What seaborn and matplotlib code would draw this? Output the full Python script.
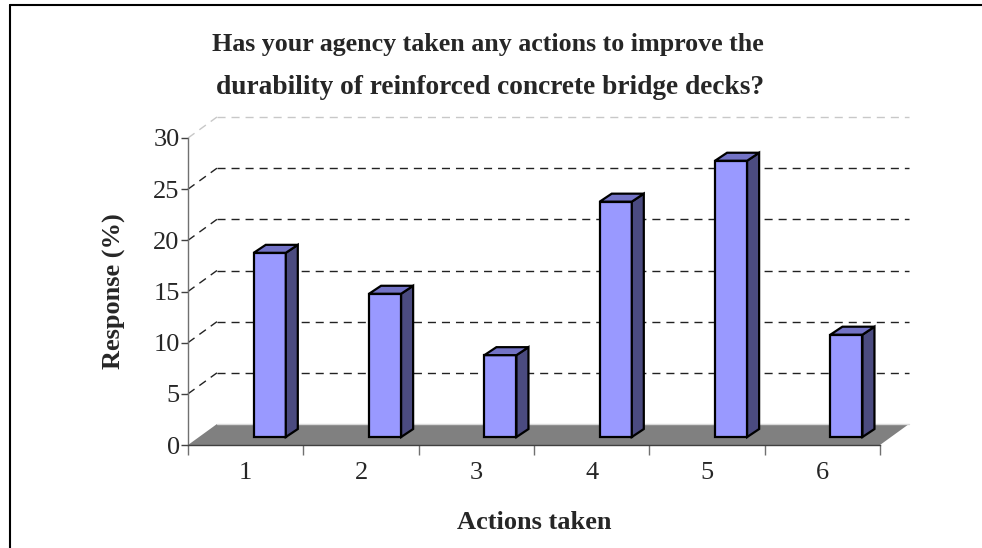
import numpy as np
import pandas as pd
import seaborn as sns
import matplotlib.pyplot as plt
from matplotlib.patches import Polygon
from matplotlib.lines import Line2D

# data
actions = ["1", "2", "3", "4", "5", "6"]
response = [18, 14, 8, 23, 27, 10]
y_ticks = [0, 5, 10, 15, 20, 25, 30]

title_lines = ["Has your agency taken any actions to improve the",
               "durability of reinforced concrete bridge decks?"]

# fake 3d geometry, in data units
DEPTH_X = 0.251    # wall depth along x (categories)
DEPTH_Y = 2.05     # wall depth along y (percent)
BAR_OFF = 0.07     # left edge of bar front face relative to category centre
BAR_W = 0.278
BAR_Z = 0.78       # bar front face sits this far back
BAR_DX = 0.104
BAR_DY = 0.78

FRONT = "#9999FF"
TOP = "#7373C6"
SIDE = "#4B4B80"
FLOOR = "#808080"

sns.set_style("white")
plt.rcParams["font.family"] = ["Liberation Serif", "DejaVu Serif"]

fig = plt.figure(figsize=(9.82, 5.48), dpi=100)
ax = fig.add_axes([188 / 982, 103 / 548, 692 / 982, 307 / 548])
ax.patch.set_alpha(0)

df = pd.DataFrame({"action": actions, "response": response})
sns.barplot(data=df, x="action", y="response", color=FRONT, saturation=1,
            edgecolor="black", linewidth=1.6, ax=ax, zorder=4)

ax.set_xlim(-0.5, len(actions) - 0.5)
ax.set_ylim(0, 30)

x0, x1 = -0.5, len(actions) - 0.5

# back wall grid lines + side wall diagonals
for v in y_ticks[1:]:
    col = "#c8c8c8" if v == y_ticks[-1] else "#222222"
    ax.plot([x0 + DEPTH_X, x1 + DEPTH_X], [v + DEPTH_Y, v + DEPTH_Y], color=col,
            lw=1.0, dashes=(5.8, 4.3), clip_on=False, zorder=1)
    ax.plot([x0, x0 + DEPTH_X], [v, v + DEPTH_Y], color=col,
            lw=1.0, dashes=(5.8, 4.3), clip_on=False, zorder=1)

# floor
floor = Polygon([(x0, 0), (x1, 0), (x1 + DEPTH_X, DEPTH_Y), (x0 + DEPTH_X, DEPTH_Y)],
                closed=True, facecolor=FLOOR, edgecolor="none", clip_on=False, zorder=2)
ax.add_patch(floor)
ax.plot([x0 + DEPTH_X, x1 + DEPTH_X], [DEPTH_Y, DEPTH_Y], color="#d9d9d9", lw=1.0,
        clip_on=False, zorder=2)

# bars: move front faces and add top and side faces
for i, (p, v) in enumerate(zip(ax.patches, response)):
    left = i + BAR_OFF
    p.set_x(left)
    p.set_width(BAR_W)
    p.set_y(BAR_Z)
    p.set_height(v)
    p.set_clip_on(False)
    right = left + BAR_W
    top = BAR_Z + v
    side = Polygon([(right, BAR_Z), (right + BAR_DX, BAR_Z + BAR_DY),
                    (right + BAR_DX, top + BAR_DY), (right, top)],
                   closed=True, facecolor=SIDE, edgecolor="black", lw=1.6,
                   joinstyle="miter", clip_on=False, zorder=4)
    lid = Polygon([(left, top), (right, top), (right + BAR_DX, top + BAR_DY),
                   (left + BAR_DX, top + BAR_DY)],
                  closed=True, facecolor=TOP, edgecolor="black", lw=1.6,
                  joinstyle="miter", clip_on=False, zorder=4)
    ax.add_patch(side)
    ax.add_patch(lid)

# axes styling
for s in ["top", "right"]:
    ax.spines[s].set_visible(False)
ax.spines["left"].set_color("#707070")
ax.spines["left"].set_linewidth(1.0)
ax.spines["bottom"].set_color("#404040")
ax.spines["bottom"].set_linewidth(1.0)
ax.spines["bottom"].set_zorder(3)

ax.set_yticks(y_ticks)
ax.tick_params(axis="y", direction="out", length=5, width=1, color="#404040",
               labelsize=19, pad=1, left=True)
ax.set_xticks(range(len(actions)))
ax.set_xticks(np.arange(x0, x1 + 0.01, 1.0), minor=True)
ax.tick_params(axis="x", which="major", length=0, labelsize=19, pad=12)
ax.tick_params(axis="x", which="minor", direction="out", length=7, width=1,
               color="#707070", bottom=True)

ax.set_xlabel("Actions taken", fontsize=19, fontweight="bold", labelpad=19.5)
ax.set_ylabel("Response (%)", fontsize=19, fontweight="bold", labelpad=20)

# title, two lines placed separately
fig.text(488 / 982, 1 - 45 / 548, title_lines[0], fontsize=18.7, fontweight="bold",
         ha="center", va="center")
fig.text(490 / 982, 1 - 88 / 548, title_lines[1], fontsize=19.7, fontweight="bold",
         ha="center", va="center")

# outer frame (only top and left edges visible)
fig.add_artist(Line2D([10 / 982, 1], [1 - 5 / 548, 1 - 5 / 548], color="black", lw=1.5))
fig.add_artist(Line2D([10 / 982, 10 / 982], [0, 1 - 5 / 548], color="black", lw=1.5))

fig.savefig("out.png", dpi=100)
